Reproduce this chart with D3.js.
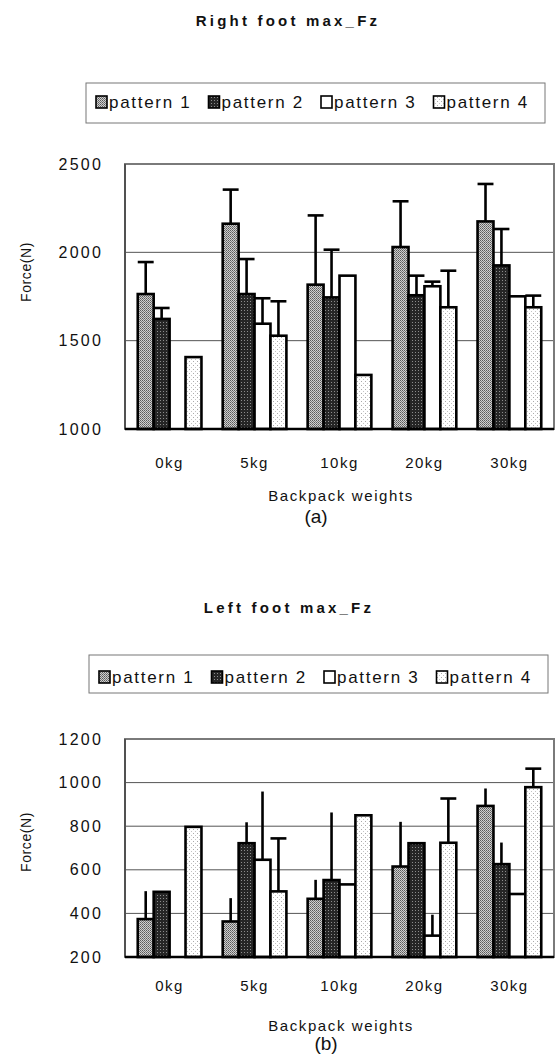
<!DOCTYPE html>
<html><head><meta charset="utf-8">
<script src="https://cdn.jsdelivr.net/npm/d3@7"></script>
<style>
html,body{margin:0;padding:0;background:#fff;}
svg{display:block;font-family:"Liberation Sans",Arial,sans-serif;}
</style></head>
<body>
<svg id="fig" width="556" height="1059"></svg>
<script>
// ---------- data ----------
const categories = ["0kg", "5kg", "10kg", "20kg", "30kg"];
const patternNames = ["pattern 1", "pattern 2", "pattern 3", "pattern 4"];

// Right foot max_Fz (N): means per pattern, and SD (upper error)
const rightMeans = [
  [1764, 2162, 1817, 2030, 2175],
  [1623, 1764, 1745, 1757, 1926],
  [null, 1596, 1868, 1808, 1751],
  [1407, 1528, 1306, 1689, 1689]
];
const rightSD = [
  [181, 193, 392, 259, 212],
  [62, 198, 270, 111, 206],
  [null, 144, null, 26, null],
  [null, 195, null, 207, 66]
];
const rightTicks = [1000, 1500, 2000, 2500];

// Left foot max_Fz (N)
const leftMeans = [
  [374, 363, 467, 615, 893],
  [499, 722, 553, 722, 626],
  [null, 646, 533, 298, 489],
  [797, 501, 850, 724, 979]
];
const leftSD = [
  [128, 107, 87, 205, 80],
  [null, 96, 310, null, 99],
  [null, 313, null, 96, null],
  [null, 243, null, 203, 85]
];
const leftTicks = [200, 400, 600, 800, 1000, 1200];

// ---------- drawing ----------
const svg = d3.select("#fig");
const defs = svg.append("defs");

// halftone-like fills
const p1 = defs.append("pattern").attr("id", "pat1").attr("patternUnits", "userSpaceOnUse").attr("width", 2).attr("height", 2);
p1.append("rect").attr("width", 2).attr("height", 2).attr("fill", "#cfcfcf");
p1.append("rect").attr("width", 1).attr("height", 1).attr("fill", "#5a5a5a");
p1.append("rect").attr("x", 1).attr("y", 1).attr("width", 1).attr("height", 1).attr("fill", "#7a7a7a");

const p2 = defs.append("pattern").attr("id", "pat2").attr("patternUnits", "userSpaceOnUse").attr("width", 3).attr("height", 3);
p2.append("rect").attr("width", 3).attr("height", 3).attr("fill", "#262626");
p2.append("rect").attr("x", 1).attr("y", 1).attr("width", 1).attr("height", 1).attr("fill", "#8c8c8c");

const p4 = defs.append("pattern").attr("id", "pat4").attr("patternUnits", "userSpaceOnUse").attr("width", 4).attr("height", 4);
p4.append("rect").attr("width", 4).attr("height", 4).attr("fill", "#ffffff");
p4.append("rect").attr("x", 1).attr("y", 1).attr("width", 1).attr("height", 1).attr("fill", "#aaaaaa");
p4.append("rect").attr("x", 3).attr("y", 3).attr("width", 1).attr("height", 1).attr("fill", "#c4c4c4");

const fills = ["url(#pat1)", "url(#pat2)", "#ffffff", "url(#pat4)"];

function drawChart(cfg) {
  const g = svg.append("g");
  const left = 125, right = 554;

  // title
  g.append("text").attr("x", cfg.titleX).attr("y", cfg.titleY)
    .attr("text-anchor", "middle").attr("font-size", 15).attr("font-weight", "bold")
    .attr("letter-spacing", 3.2).attr("fill", "#111").text(cfg.title);

  // legend
  const lg = g.append("g");
  lg.append("rect").attr("x", cfg.legX).attr("y", cfg.legTop).attr("width", 459).attr("height", cfg.legH)
    .attr("fill", "none").attr("stroke", "#777").attr("stroke-width", 1);
  patternNames.forEach((name, i) => {
    const x = cfg.legX + 10 + i * 112.5;
    lg.append("rect").attr("x", x).attr("y", cfg.legBase - 12).attr("width", 11).attr("height", 12)
      .attr("fill", fills[i]).attr("stroke", "#000").attr("stroke-width", 1.6);
    lg.append("text").attr("x", x + 13).attr("y", cfg.legBase).attr("font-size", 17)
      .attr("letter-spacing", 1.7).attr("fill", "#111").text(name);
  });

  // scales
  const y = d3.scaleLinear().domain(cfg.domain).range([cfg.bottom, cfg.top]);
  const x0 = d3.scaleBand().domain(categories).range([left, right]).paddingInner(0.25).paddingOuter(0.15);
  const x1 = d3.scaleBand().domain(d3.range(4)).range([0, x0.bandwidth()]).padding(0);

  // gridlines (inner ticks only)
  g.append("g").selectAll("line").data(cfg.ticks.slice(1, -1)).join("line")
    .attr("x1", left).attr("x2", right).attr("y1", d => y(d)).attr("y2", d => y(d))
    .attr("stroke", "#555").attr("stroke-width", 1);

  // frame
  g.append("rect").attr("x", left).attr("y", cfg.top).attr("width", right - left).attr("height", cfg.bottom - cfg.top)
    .attr("fill", "none").attr("stroke", "#7a7a7a").attr("stroke-width", 2);
  g.append("line").attr("x1", left).attr("x2", left).attr("y1", cfg.top).attr("y2", cfg.bottom)
    .attr("stroke", "#444").attr("stroke-width", 1.5);

  // y axis labels via d3 axis
  const yAxis = d3.axisLeft(y).tickValues(cfg.ticks).tickSize(0).tickPadding(0).tickFormat(d3.format("d"));
  const ya = g.append("g").attr("transform", `translate(${left - 22},0)`).call(yAxis);
  ya.select(".domain").remove();
  ya.selectAll("text").attr("font-size", 16).attr("letter-spacing", 2.2).attr("fill", "#111")
    .attr("font-family", "Liberation Sans, Arial, sans-serif");

  // y title
  g.append("text").attr("transform", `translate(31,${cfg.yTitleY}) rotate(-90)`)
    .attr("text-anchor", "middle").attr("font-size", 14).attr("letter-spacing", 0.6).attr("fill", "#111").text("Force(N)");

  // bars
  const rows = [];
  categories.forEach((c, ci) => {
    patternNames.forEach((p, pi) => {
      const v = cfg.means[pi][ci];
      if (v != null) rows.push({ c, pi, v, sd: cfg.sd[pi][ci] });
    });
  });

  const bars = g.append("g");
  bars.selectAll("rect").data(rows).join("rect")
    .attr("x", d => x0(d.c) + x1(d.pi))
    .attr("y", d => y(d.v))
    .attr("width", x1.bandwidth())
    .attr("height", d => y(cfg.domain[0]) - y(d.v))
    .attr("fill", d => fills[d.pi])
    .attr("stroke", "#000").attr("stroke-width", 2.6);

  // error bars (upper only)
  const errs = rows.filter(d => d.sd != null);
  const eg = g.append("g").attr("stroke", "#000").attr("stroke-width", 2.6);
  eg.selectAll("line.v").data(errs).join("line").attr("class", "v")
    .attr("x1", d => x0(d.c) + x1(d.pi) + x1.bandwidth() / 2)
    .attr("x2", d => x0(d.c) + x1(d.pi) + x1.bandwidth() / 2)
    .attr("y1", d => y(d.v)).attr("y2", d => y(d.v + d.sd));
  eg.selectAll("line.cap").data(errs.filter(d => cfg.capSeries.includes(d.pi))).join("line").attr("class", "cap")
    .attr("x1", d => x0(d.c) + x1(d.pi))
    .attr("x2", d => x0(d.c) + x1(d.pi) + x1.bandwidth())
    .attr("y1", d => y(d.v + d.sd)).attr("y2", d => y(d.v + d.sd));

  // baseline
  g.append("line").attr("x1", left).attr("x2", right).attr("y1", cfg.bottom).attr("y2", cfg.bottom)
    .attr("stroke", "#000").attr("stroke-width", 2.5);

  // x axis labels
  const xAxis = d3.axisBottom(x0).tickSize(0).tickPadding(0);
  const xa = g.append("g").attr("transform", `translate(0,${cfg.xLabelY})`).call(xAxis);
  xa.select(".domain").remove();
  xa.selectAll("text").attr("font-size", 15).attr("letter-spacing", 1.5).attr("fill", "#111")
    .attr("dy", 0).attr("font-family", "Liberation Sans, Arial, sans-serif");

  // x title and panel label
  g.append("text").attr("x", 341).attr("y", cfg.xTitleY).attr("text-anchor", "middle")
    .attr("font-size", 15).attr("letter-spacing", 1.6).attr("fill", "#111").text("Backpack weights");
  g.append("text").attr("x", cfg.panelX).attr("y", cfg.xTitleY + cfg.panelGap).attr("text-anchor", "middle")
    .attr("font-size", 19).attr("fill", "#111").text(cfg.panel);
}

drawChart({
  title: "Right foot max_Fz", titleX: 288, titleY: 26,
  legX: 86, legTop: 83, legH: 40, legBase: 108,
  domain: [1000, 2500], ticks: rightTicks, top: 164, bottom: 429,
  means: rightMeans, sd: rightSD, capSeries: [0, 1, 2, 3],
  yTitleY: 272, xLabelY: 468, xTitleY: 501, panel: "(a)", panelX: 316, panelGap: 22
});

drawChart({
  title: "Left foot max_Fz", titleX: 289, titleY: 613,
  legX: 89, legTop: 655, legH: 38, legBase: 683,
  domain: [200, 1200], ticks: leftTicks, top: 739, bottom: 957,
  means: leftMeans, sd: leftSD, capSeries: [3],
  yTitleY: 842, xLabelY: 991, xTitleY: 1031, panel: "(b)", panelX: 326, panelGap: 19
});
</script>
</body></html>
